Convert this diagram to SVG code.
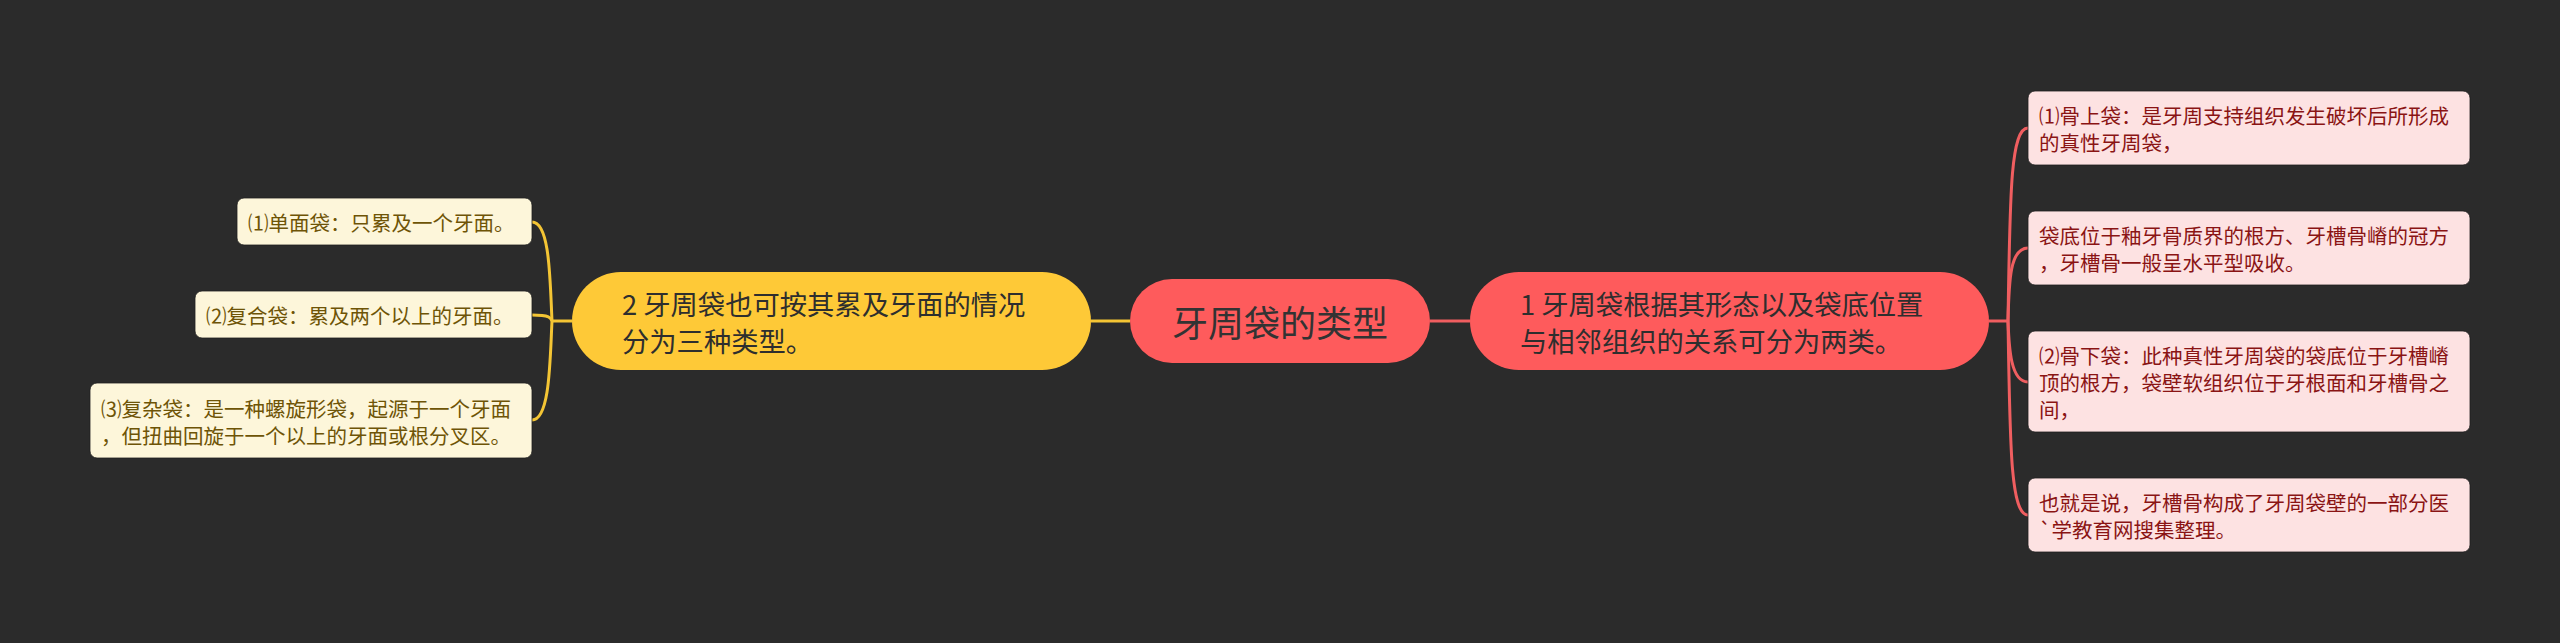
<svg xmlns="http://www.w3.org/2000/svg" width="2560" height="643" viewBox="0 0 2560 643">
<style>
text{font-family:"Noto Sans CJK SC","Liberation Sans",sans-serif;dominant-baseline:central}
.main{fill:#fe5b5c}
.l1r{fill:#fe5b5c}
.l1y{fill:#fec937}
.leafr{fill:#fde2e2;stroke:#1e1e1e;stroke-width:0.8}
.leafy{fill:#fdf6da;stroke:#1e1e1e;stroke-width:0.8}
.tmain{font-size:36px;fill:#333333}
.tl1{font-size:27.3px;fill:#2e2e2e}
.tr{font-size:20.5px;fill:#8a1414}
.ty{font-size:20.5px;fill:#6e5406}
.cr{fill:none;stroke:#f05e60;stroke-width:3}
.cy{fill:none;stroke:#f4c534;stroke-width:3}
</style>
<rect width="2560" height="643" fill="#2b2b2b"/>
<g id="connectors">
<path class="cr" d="M1430,321 H1470"/>
<path class="cy" d="M1091,321 H1130"/>
<path class="cr" d="M1989,321 H2008"/>
<path class="cr" d="M2008,321 C2010,200 2010,128 2028,128"/>
<path class="cr" d="M2008,321 C2009,280 2010,248 2028,248"/>
<path class="cr" d="M2008,321 C2009,345 2010,382 2028,382"/>
<path class="cr" d="M2008,321 C2010,440 2010,515 2028,515"/>
<path class="cy" d="M572,321 H552"/>
<path class="cy" d="M552,321 C550,280 550,222 532,222"/>
<path class="cy" d="M552,321 C551,318 550,315 532,315"/>
<path class="cy" d="M552,321 C550,360 550,420 532,420"/>
</g>
<g id="root">
<rect class="main" x="1130" y="279" width="300" height="84" rx="42"/>
<text class="tmain" x="1280" y="321" text-anchor="middle">牙周袋的类型</text>
</g>
<g id="node1">
<rect class="l1r" x="1470" y="272" width="519" height="98" rx="49"/>
<text class="tl1" x="1520" y="303">1 牙周袋根据其形态以及袋底位置</text>
<text class="tl1" x="1520" y="340">与相邻组织的关系可分为两类。</text>
</g>
<g id="node2">
<rect class="l1y" x="572" y="272" width="519" height="98" rx="49"/>
<text class="tl1" x="622" y="303">2 牙周袋也可按其累及牙面的情况</text>
<text class="tl1" x="622" y="340">分为三种类型。</text>
</g>
<g id="r1">
<rect class="leafr" x="2028" y="91" width="442" height="74" rx="7"/>
<text class="tr" x="2039" y="115">⑴骨上袋：是牙周支持组织发生破坏后所形成</text>
<text class="tr" x="2039" y="142">的真性牙周袋，</text>
</g>
<g id="r2">
<rect class="leafr" x="2028" y="211" width="442" height="74" rx="7"/>
<text class="tr" x="2039" y="235">袋底位于釉牙骨质界的根方、牙槽骨嵴的冠方</text>
<text class="tr" x="2039" y="262">，牙槽骨一般呈水平型吸收。</text>
</g>
<g id="r3">
<rect class="leafr" x="2028" y="331" width="442" height="101" rx="7"/>
<text class="tr" x="2039" y="355">⑵骨下袋：此种真性牙周袋的袋底位于牙槽嵴</text>
<text class="tr" x="2039" y="382">顶的根方，袋壁软组织位于牙根面和牙槽骨之</text>
<text class="tr" x="2039" y="409">间，</text>
</g>
<g id="r4">
<rect class="leafr" x="2028" y="478" width="442" height="74" rx="7"/>
<text class="tr" x="2039" y="502">也就是说，牙槽骨构成了牙周袋壁的一部分医</text>
<text class="tr" x="2039" y="529">`学教育网搜集整理。</text>
</g>
<g id="y1">
<rect class="leafy" x="237" y="198" width="295" height="47" rx="7"/>
<text class="ty" x="248" y="222">⑴单面袋：只累及一个牙面。</text>
</g>
<g id="y2">
<rect class="leafy" x="195" y="291" width="337" height="47" rx="7"/>
<text class="ty" x="206" y="315">⑵复合袋：累及两个以上的牙面。</text>
</g>
<g id="y3">
<rect class="leafy" x="90" y="383" width="442" height="75" rx="7"/>
<text class="ty" x="101" y="408">⑶复杂袋：是一种螺旋形袋，起源于一个牙面</text>
<text class="ty" x="101" y="435">，但扭曲回旋于一个以上的牙面或根分叉区。</text>
</g>
</svg>
